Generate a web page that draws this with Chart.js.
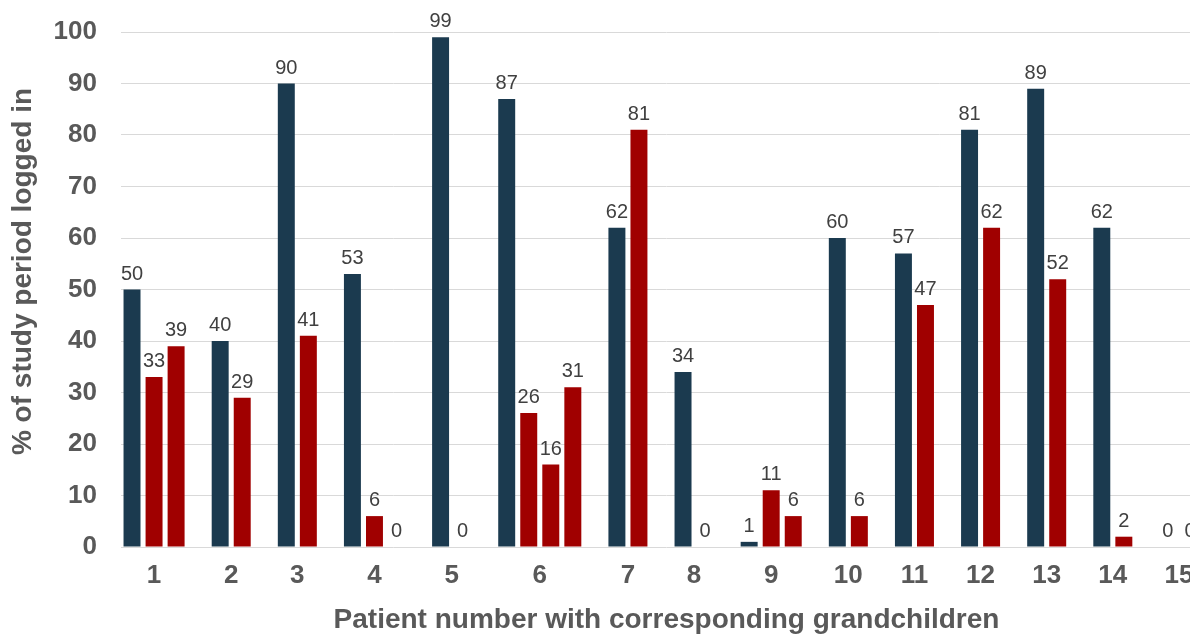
<!DOCTYPE html>
<html>
<head>
<meta charset="utf-8">
<title>Study period logged in per patient and grandchildren</title>
<script src="https://cdn.jsdelivr.net/npm/chart.js@4/dist/chart.umd.min.js"></script>
<style>
  html, body { margin: 0; padding: 0; background: #ffffff; overflow: hidden; }
  #wrap { position: relative; width: 1212px; height: 636px; }
</style>
</head>
<body>
<div id="wrap"><canvas id="chart"></canvas></div>
<script>
// Patient numbers shown on the x axis
const patients = ['1', '2', '3', '4', '5', '6', '7', '8', '9', '10', '11', '12', '13', '14', '15'];
// % of study period each patient was logged in
const patientLogin = [50, 40, 90, 53, 99, 87, 62, 34, 1, 60, 57, 81, 89, 62, 0];
// % of study period logged in for each of the patient's grandchildren
const grandchildLogin = [[33, 39], [29], [41], [6, 0], [0], [26, 16, 31], [81], [0], [11, 6], [6], [47], [62], [52], [2], [0]];
// y axis ticks
const yTicks = [0, 10, 20, 30, 40, 50, 60, 70, 80, 90, 100];

const COLOR_PATIENT = '#1b3a4f';
const COLOR_GRANDCHILD = '#a00000';
const FONT = '"Liberation Sans", Arial, sans-serif';
const Y_TITLE = '% of study period logged in';

// Lay bars out side by side: patient first, then each grandchild,
// with one empty slot between patients. Group label sits in the middle.
const patientPoints = [];
const grandchildPoints = [];
const groupCenters = [];
let slot = 0;
patients.forEach((p, i) => {
  const kids = grandchildLogin[i];
  patientPoints.push({ x: slot, y: patientLogin[i] });
  kids.forEach((v, k) => grandchildPoints.push({ x: slot + 1 + k, y: v }));
  groupCenters.push(slot + kids.length / 2);
  slot += kids.length + 2;
});

// Value labels above each bar
const valueLabels = {
  id: 'valueLabels',
  afterDatasetsDraw(chart) {
    const ctx = chart.ctx;
    ctx.save();
    ctx.font = '20px ' + FONT;
    ctx.fillStyle = '#404040';
    ctx.textAlign = 'center';
    ctx.textBaseline = 'alphabetic';
    chart.data.datasets.forEach((ds, di) => {
      const meta = chart.getDatasetMeta(di);
      meta.data.forEach((el, j) => {
        ctx.fillText(String(ds.data[j].y), el.x, el.y - 10);
      });
    });
    ctx.restore();
  }
};

// Vertical axis title, sitting slightly above the middle of the plot
const yAxisTitle = {
  id: 'yAxisTitle',
  afterDraw(chart) {
    const ctx = chart.ctx;
    const area = chart.chartArea;
    ctx.save();
    ctx.translate(23, (area.top + area.bottom) / 2 - 18);
    ctx.rotate(-Math.PI / 2);
    ctx.font = 'bold 28px ' + FONT;
    ctx.fillStyle = '#595959';
    ctx.textAlign = 'center';
    ctx.textBaseline = 'middle';
    ctx.fillText(Y_TITLE, 0, 0);
    ctx.restore();
  }
};

new Chart(document.getElementById('chart'), {
  type: 'bar',
  data: {
    datasets: [
      { label: 'Patient', data: patientPoints, backgroundColor: COLOR_PATIENT },
      { label: 'Grandchildren', data: grandchildPoints, backgroundColor: COLOR_GRANDCHILD }
    ]
  },
  options: {
    responsive: true,
    maintainAspectRatio: false,
    animation: false,
    grouped: false,
    categoryPercentage: 1,
    barPercentage: 0.77,
    layout: { padding: { top: 32, left: 0, right: 0, bottom: 0 } },
    plugins: {
      legend: { display: false },
      tooltip: { enabled: false }
    },
    scales: {
      x: {
        type: 'linear',
        offset: false,
        min: -0.5,
        max: 49,
        grid: { display: false, drawTicks: false, offset: false },
        border: { display: false },
        afterBuildTicks(scale) {
          scale.ticks = groupCenters.map(v => ({ value: v }));
        },
        afterFit(scale) {
          scale.height = 89;
          scale.paddingLeft = 0;
          scale.paddingRight = 0;
        },
        ticks: {
          autoSkip: false,
          maxRotation: 0,
          padding: 13,
          color: '#595959',
          font: { family: FONT, size: 26, weight: 'bold' },
          callback: (value, index) => patients[index]
        },
        title: {
          display: true,
          text: 'Patient number with corresponding grandchildren',
          color: '#595959',
          font: { family: FONT, size: 28, weight: 'bold', lineHeight: 1.1 },
          padding: { top: 0, bottom: 0 }
        }
      },
      y: {
        min: 0,
        max: 100,
        grid: { color: '#d9d9d9', lineWidth: 1, drawTicks: false },
        border: { display: false },
        afterBuildTicks(scale) {
          scale.ticks = yTicks.map(v => ({ value: v }));
        },
        afterFit(scale) {
          scale.width = 121;
          scale.paddingTop = 0;
          scale.paddingBottom = 0;
        },
        ticks: {
          padding: 24,
          color: '#595959',
          font: { family: FONT, size: 26, weight: 'bold' }
        }
      }
    }
  },
  plugins: [valueLabels, yAxisTitle]
});
</script>
</body>
</html>
